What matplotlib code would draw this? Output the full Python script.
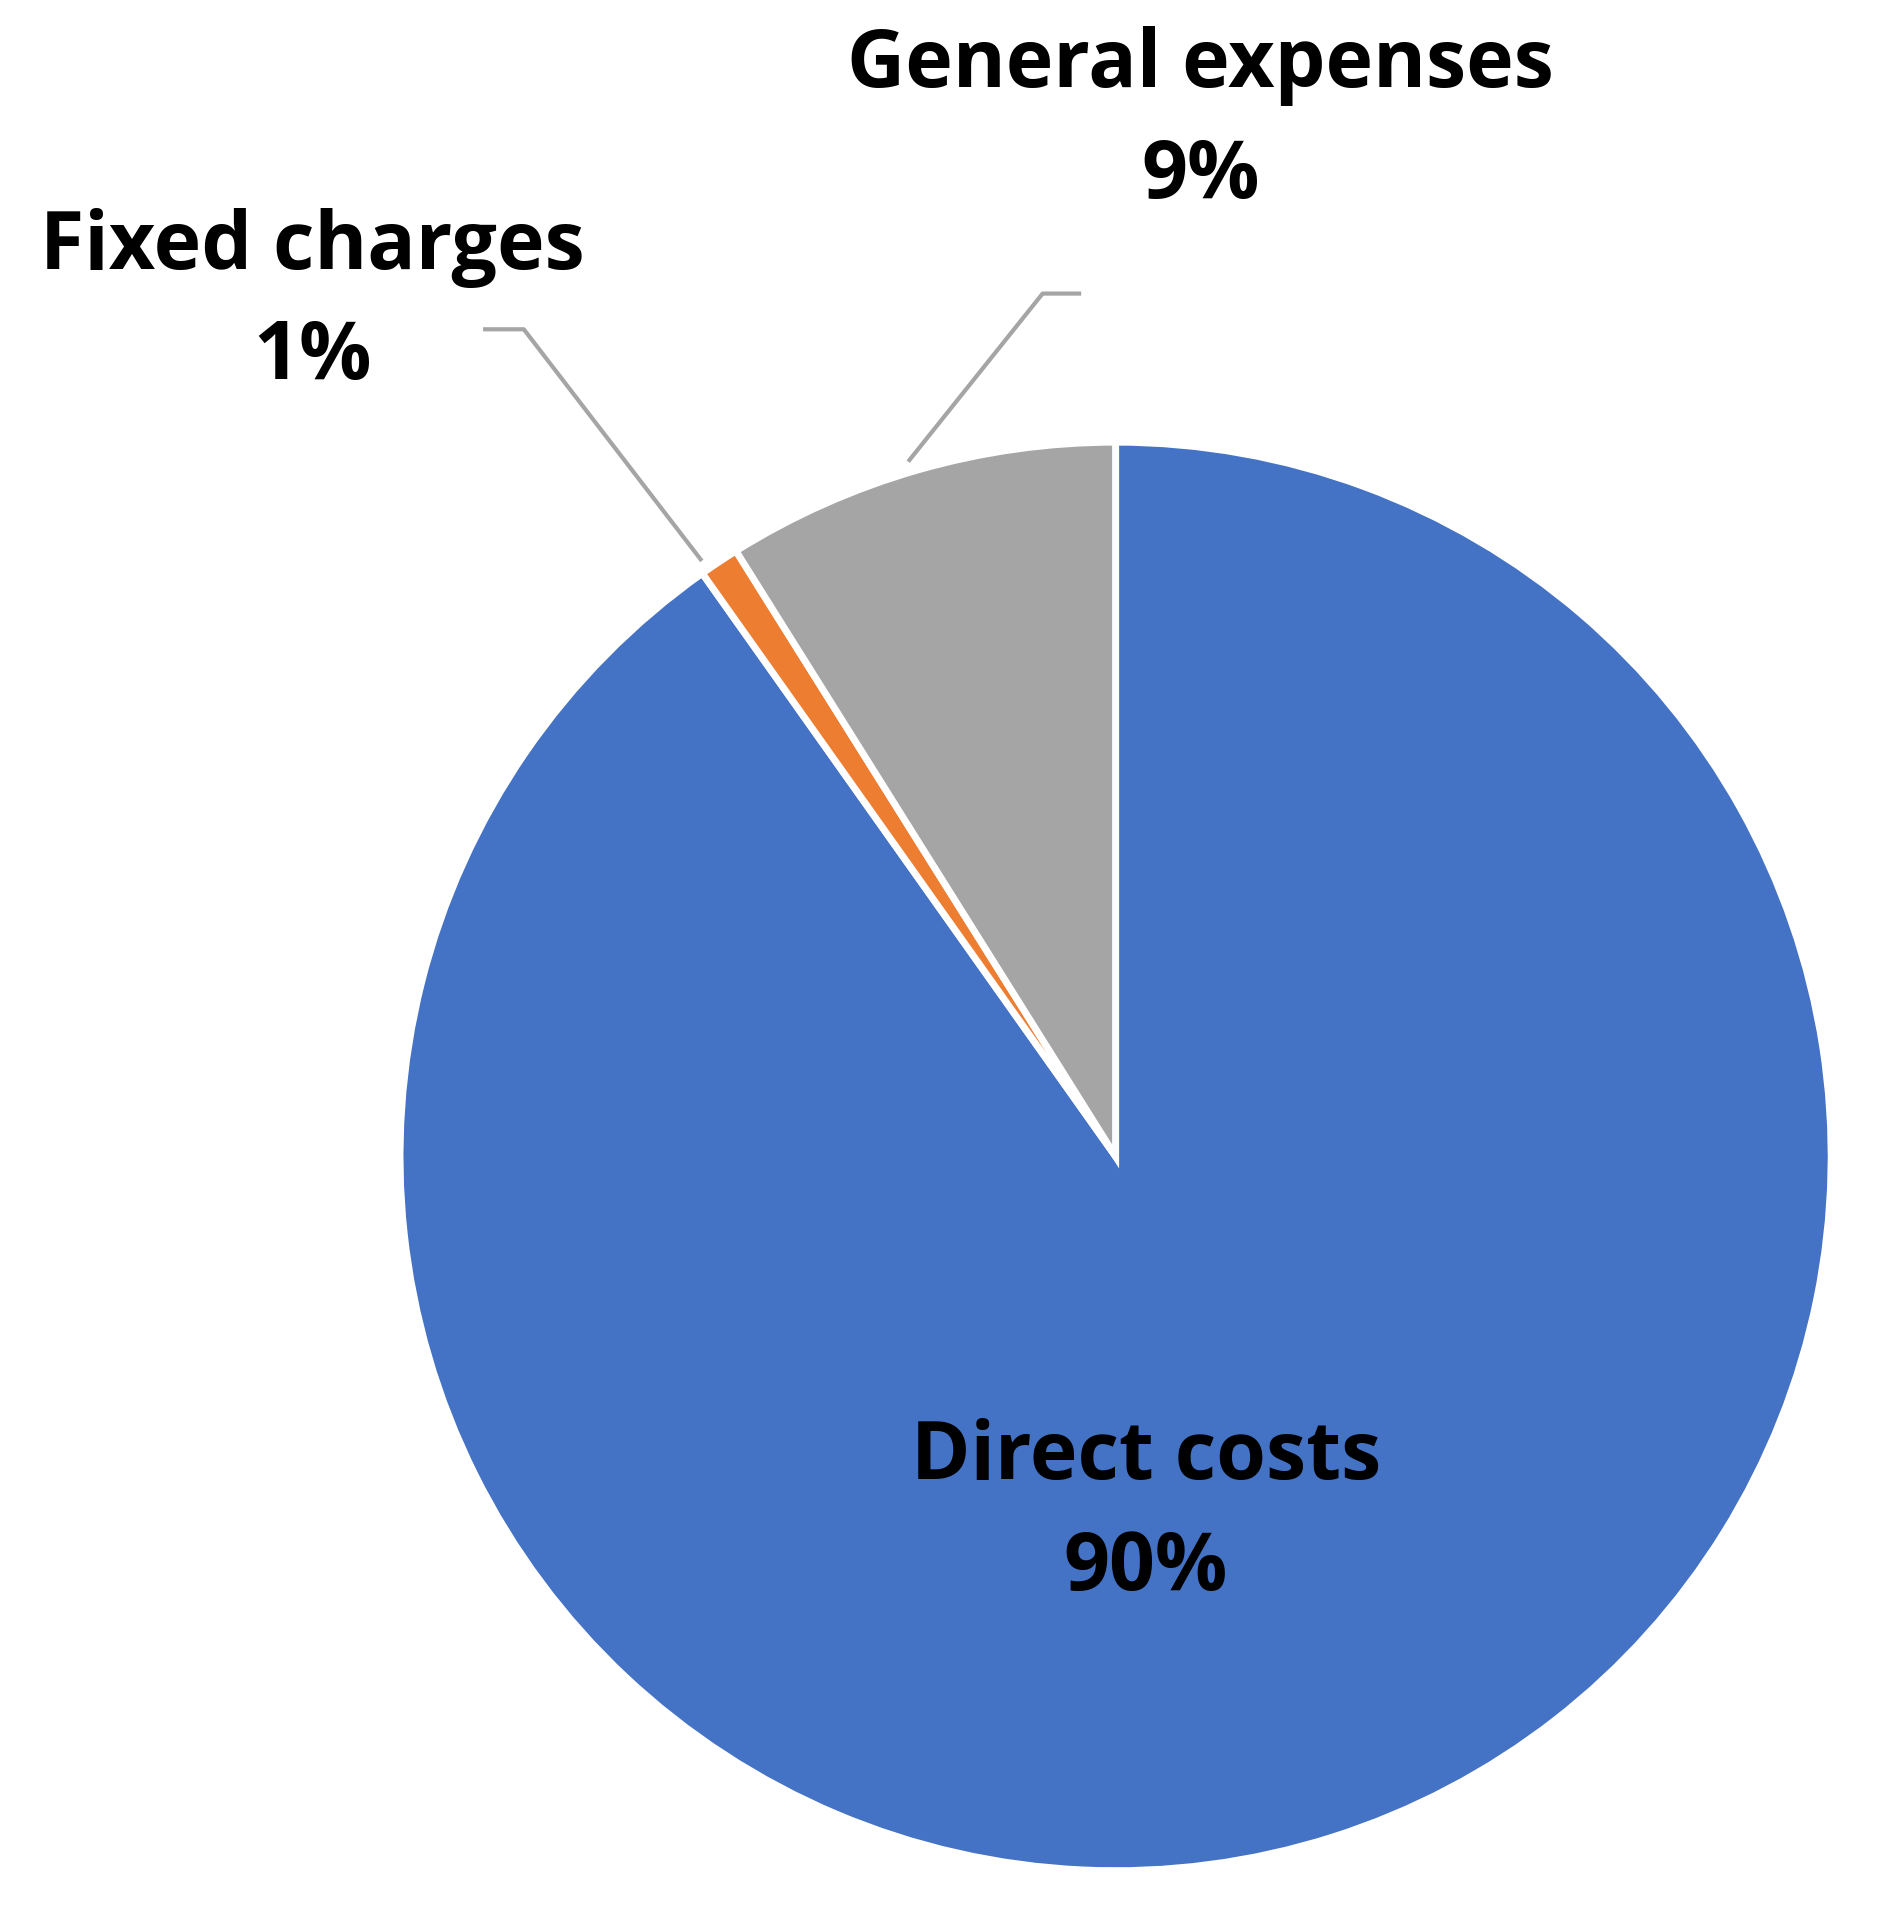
import matplotlib
matplotlib.use("Agg")
import matplotlib.pyplot as plt

categories = ["Direct costs", "Fixed charges", "General expenses"]
values = [90.2, 0.9, 8.9]
pct_labels = ["90%", "1%", "9%"]
colors = ["#4472C4", "#ED7D31", "#A5A5A5"]

fig = plt.figure(figsize=(18.92, 19.25), dpi=100)
ax = fig.add_axes([0, 0, 1, 1])
ax.pie(values, colors=colors, startangle=90, counterclock=False, radius=1.0,
       wedgeprops=dict(edgecolor="white", linewidth=5))
ax.set_xlim(-1.559, 1.085)
ax.set_ylim(-1.076, 1.619)
ax.set_aspect("auto")
ax.axis("off")

font = dict(family="Open Sans", fontweight="bold", fontsize=58, color="black",
            ha="center", va="center", linespacing=1.5)
ax.text(0.042, -0.5, f"{categories[0]}\n{pct_labels[0]}", **font)
ax.text(-1.122, 1.195, f"{categories[1]}\n{pct_labels[1]}", **font)
ax.text(0.119, 1.449, f"{categories[2]}\n{pct_labels[2]}", **font)

ax.plot([-0.288, -0.102, -0.051], [0.975, 1.208, 1.208], color="#A5A5A5", lw=3)
ax.plot([-0.580, -0.827, -0.881], [0.836, 1.158, 1.158], color="#A5A5A5", lw=3)

fig.savefig("out.png", dpi=100)
